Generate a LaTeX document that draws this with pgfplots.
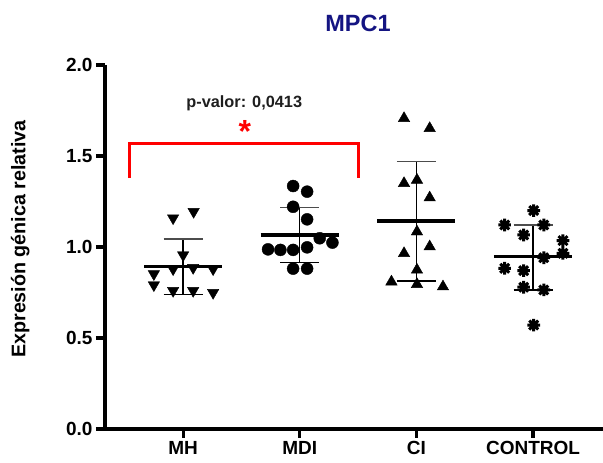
\documentclass[border=0pt]{standalone}
\usepackage{fontspec}
\setmainfont{Liberation Sans}
\usepackage{pgfplots}
\pgfplotsset{compat=1.18}
\definecolor{navyt}{RGB}{20,20,130}
\definecolor{pgray}{RGB}{30,30,30}
\pgfdeclareplotmark{ast8}{%
 \pgfpathmoveto{\pgfqpoint{0pt}{\pgfplotmarksize}}\pgfpathlineto{\pgfqpoint{0pt}{-\pgfplotmarksize}}%
 \pgfpathmoveto{\pgfqpoint{\pgfplotmarksize}{0pt}}\pgfpathlineto{\pgfqpoint{-\pgfplotmarksize}{0pt}}%
 \pgfpathmoveto{\pgfqpoint{0.707\pgfplotmarksize}{0.707\pgfplotmarksize}}\pgfpathlineto{\pgfqpoint{-0.707\pgfplotmarksize}{-0.707\pgfplotmarksize}}%
 \pgfpathmoveto{\pgfqpoint{0.707\pgfplotmarksize}{-0.707\pgfplotmarksize}}\pgfpathlineto{\pgfqpoint{-0.707\pgfplotmarksize}{0.707\pgfplotmarksize}}%
 \pgfusepathqstroke}
\begin{document}
\begin{tikzpicture}
\path[use as bounding box] (0,0) rectangle (603pt,463pt);
\begin{axis}[
  at={(105pt,34pt)}, anchor=south west,
  scale only axis, width=498pt, height=364pt,
  xmin=0.33, xmax=4.6, ymin=0, ymax=2,
  axis lines=left,
  axis line style={-, line width=3.5pt},
  clip=false,
  xtick={1,2,3,4}, xticklabels={MH,MDI,CI,CONTROL},
  ytick={0,0.5,1,1.5,2},
  yticklabel style={/pgf/number format/.cd, fixed, fixed zerofill, precision=1, assume math mode=true},
  tick label style={font=\bfseries\fontsize{19}{19}\selectfont},
  tick align=outside, major tick length=9pt,
  tick style={line width=3.2pt, black},
  ylabel={Expresión génica relativa},
  ylabel style={font=\bfseries\fontsize{19.7}{19.7}\selectfont, at={(axis description cs:-0.17,0.522)}, anchor=center},
]
% MH
\addplot[only marks, mark=triangle*, mark size=6.6pt, mark options={rotate=180, fill=black}, black] coordinates {
(0.914,1.159) (1.090,1.194) (1.000,0.956) (0.914,0.879) (1.086,0.886) (1.257,0.879)
(0.749,0.852) (0.749,0.791) (0.914,0.760) (1.086,0.760) (1.257,0.749)};
% MDI
\addplot[only marks, mark=*, mark size=6pt, black, mark options={fill=black}] coordinates {
(1.943,1.335) (2.063,1.304) (1.943,1.221) (2.063,1.152) (2.171,1.048) (2.280,1.024)
(1.728,0.987) (1.834,0.984) (1.943,0.984) (2.063,0.998) (1.943,0.881) (2.063,0.881)};
% CI
\addplot[only marks, mark=triangle*, mark size=6.6pt, black, mark options={fill=black}] coordinates {
(2.894,1.707) (3.114,1.652) (2.894,1.350) (3.005,1.368) (3.114,1.271) (3.005,1.084)
(3.114,1.002) (2.894,0.965) (3.005,0.874) (2.786,0.809) (3.005,0.795) (3.228,0.782)};
% CONTROL
\addplot[only marks, mark=ast8, mark size=6.3pt, black, mark options={line width=3pt}] coordinates {
(4.006,1.200) (3.757,1.121) (4.092,1.121) (3.920,1.066) (4.257,1.035) (4.257,0.965)
(4.092,0.941) (3.757,0.883) (3.920,0.870) (3.920,0.779) (4.092,0.764) (4.006,0.571)};
% means
\addplot[black, line width=3.5pt] coordinates {(0.665,0.892) (1.335,0.892)};
\addplot[black, line width=3.5pt] coordinates {(1.665,1.066) (2.335,1.066)};
\addplot[black, line width=3.5pt] coordinates {(2.665,1.143) (3.335,1.143)};
\addplot[black, line width=3.5pt] coordinates {(3.665,0.947) (4.335,0.947)};
% SD
\addplot[black, line width=1.4pt] coordinates {(1,0.740) (1,1.044)};
\addplot[black!70, line width=1.4pt] coordinates {(0.833,1.044) (1.167,1.044)};
\addplot[black, line width=1.4pt] coordinates {(0.833,0.740) (1.167,0.740)};
\addplot[black, line width=1.4pt] coordinates {(2,0.914) (2,1.218)};
\addplot[black!70, line width=1.4pt] coordinates {(1.833,1.218) (2.167,1.218)};
\addplot[black, line width=1.4pt] coordinates {(1.833,0.914) (2.167,0.914)};
\addplot[black, line width=1.4pt] coordinates {(3,0.813) (3,1.469)};
\addplot[black!70, line width=1.4pt] coordinates {(2.833,1.469) (3.167,1.469)};
\addplot[black, line width=1.4pt] coordinates {(2.833,0.813) (3.167,0.813)};
\addplot[black, line width=1.4pt] coordinates {(4,0.764) (4,1.121)};
\addplot[black!70, line width=1.4pt] coordinates {(3.833,1.121) (4.167,1.121)};
\addplot[black, line width=1.4pt] coordinates {(3.833,0.764) (4.167,0.764)};
% bracket
\addplot[red, line width=3pt] coordinates {(0.543,1.379) (0.543,1.571) (2.506,1.571) (2.506,1.379)};
\node[font=\bfseries\fontsize{16.3}{16.3}\selectfont, text=pgray, anchor=center] at (axis cs:1.524,1.79) {p-valor: 0,0413};
\node[font=\bfseries\fontsize{32}{32}\selectfont, text=red, anchor=center] at (axis cs:1.529,1.635) {*};
\node[font=\bfseries\fontsize{23.5}{23.5}\selectfont, text=navyt, anchor=center] at (axis description cs:0.508,1.113) {MPC1};
\end{axis}
\end{tikzpicture}
\end{document}
